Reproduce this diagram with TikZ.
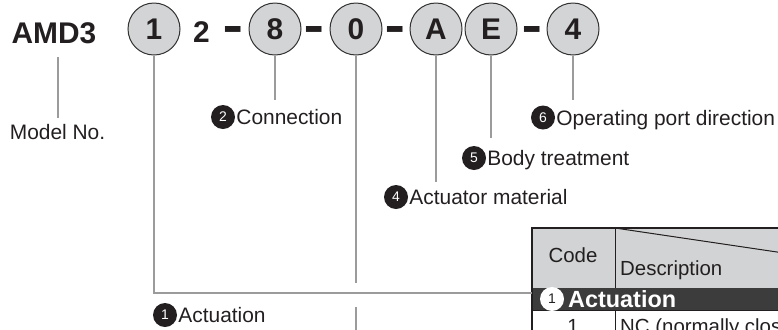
\documentclass[tikz,border=0pt]{standalone}
\usepackage{fontspec}
\setmainfont{Liberation Sans}
\definecolor{ink}{RGB}{35,31,32}
\definecolor{circfill}{RGB}{211,212,213}
\definecolor{circline}{RGB}{50,50,50}
\definecolor{conn}{RGB}{155,155,155}
\definecolor{hdrfill}{RGB}{210,211,212}
\definecolor{darkrow}{RGB}{60,60,60}
\newcommand{\codedash}{\raisebox{-2.9bp}{\scalebox{1.05}[2]{–}}}
\begin{document}
\begin{tikzpicture}[x=1bp,y=-1bp,
  big/.style={circle,draw=circline,line width=1bp,fill=circfill,minimum size=52bp,inner sep=0pt,
    font=\fontsize{30}{30}\selectfont\bfseries,text=ink},
  code/.style={inner sep=0pt,font=\fontsize{30}{30}\selectfont\bfseries,text=ink},
  dashtxt/.style={inner sep=0pt,anchor=base,font=\fontsize{30}{30}\selectfont\bfseries,text=ink},
  num/.style={circle,fill=ink,minimum size=24bp,inner sep=0pt,text=white,font=\fontsize{14}{14}\selectfont},
  lbl/.style={anchor=west,inner sep=1bp,text height=15bp,text depth=0pt,text=ink,font=\fontsize{21}{21}\selectfont},
  connector/.style={draw=conn,line width=2bp},
  tblline/.style={draw=ink,line width=1bp},
  tblframe/.style={draw=ink,line width=2bp},
  tbltxt/.style={inner sep=0pt,text=ink,font=\fontsize{20.5}{21}\selectfont}]
\useasboundingbox (0,0) rectangle (778,329);
\clip (0,0) rectangle (778,329);

% ---- model code ----
\node[code,text height=21bp,text depth=0pt] (amd) at (54,33) {AMD3};
\node[big] (c1) at (154,29) {1};
\node[code,text height=21bp,text depth=0pt] (two) at (201.5,31.5) {2};
\node[dashtxt] (d1) at (233.5,43) {\codedash};
\node[big] (c8) at (275,29) {8};
\node[dashtxt] (d2) at (314.5,43) {\codedash};
\node[big] (c0) at (356,29) {0};
\node[dashtxt] (d3) at (395.5,43) {\codedash};
\node[big] (cA) at (436,29) {A};
\node[big] (cE) at (491,29) {E};
\node[dashtxt] (d4) at (532.5,43) {\codedash};
\node[big] (c4) at (573,29) {4};

% ---- labels ----
\node[lbl,anchor=center] (tM) at (57.5,132) {Model No.};
\node[num] (n2) at (223,117) {2};
\node[lbl] (t2) at (n2.east) {Connection};
\node[num] (n6) at (543,117.5) {6};
\node[lbl] (t6) at (n6.east) {Operating port direction};
\node[num] (n5) at (474,158) {5};
\node[lbl] (t5) at (n5.east) {Body treatment};
\node[num] (n4) at (396,197) {4};
\node[lbl] (t4) at (n4.east) {Actuator material};
\node[num] (n1) at (165,315) {1};
\node[lbl] (t1) at (n1.east) {Actuation};

% ---- connector ends ----
\coordinate (sM) at (58,57);
\coordinate (eM) at (58,118);
\coordinate (e8) at (275,100);
\coordinate (eA) at (436,182);
\coordinate (eE) at (491,138);
\coordinate (e4) at (573,100);
\coordinate (e0a) at (356,283);
\coordinate (e0b) at (356,307);
\coordinate (e0c) at (356,340);
\coordinate (tabL) at (532,293);

% ---- table ----
\fill[hdrfill] (532,228) rectangle (800,288);
\fill[darkrow] (532,288) rectangle (800,310);
\draw[tblline] (615,228) -- (615,288);
\draw[tblline] (615,310) -- (615,340);
\draw[tblline] (532,310) -- (800,310);
\draw[tblline] (615,228) -- (800,255.4);
\draw[tblframe] (800,228) -- (532,228) -- (532,340);
\node[tbltxt] (hCode) at (573,255) {Code};
\node[tbltxt,anchor=base west] (hDesc) at (620,275) {Description};
\node[num,fill=white,text=ink] (r1n) at (552,299) {1};
\node[tbltxt,anchor=west,text=white,text height=17bp,text depth=0pt,font=\fontsize{23.5}{24}\selectfont\bfseries] (r1t) at (568,299) {Actuation};
\node[tbltxt,anchor=base] (v1) at (573,333) {1};
\node[tbltxt,anchor=base west] (v1d) at (620,333) {NC (normally closed)};

% ---- connectors ----
\draw[connector] (sM) -- (eM);
\draw[connector] (c1.south) |- (tabL);
\draw[connector] (c8.south) -- (e8);
\draw[connector] (c0.south) -- (e0a);
\draw[connector] (e0b) -- (e0c);
\draw[connector] (cA.south) -- (eA);
\draw[connector] (cE.south) -- (eE);
\draw[connector] (c4.south) -- (e4);
\end{tikzpicture}
\end{document}
